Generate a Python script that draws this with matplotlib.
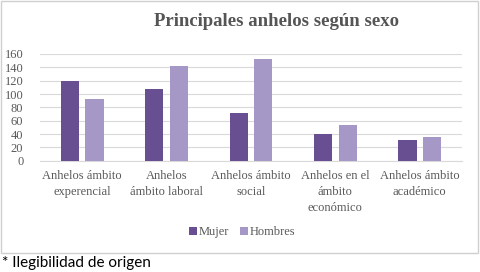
import matplotlib
matplotlib.use("Agg")
import matplotlib.pyplot as plt
import numpy as np
from matplotlib.patches import Rectangle

categories = ["Anhelos ámbito\nexperencial", "Anhelos\námbito laboral", "Anhelos ámbito\nsocial",
              "Anhelos en el\námbito\neconómico", "Anhelos ámbito\nacadémico"]
mujer = [120, 108, 72, 40, 31]
hombres = [92, 142, 152, 54, 36]
yticks = [0, 20, 40, 60, 80, 100, 120, 140, 160]

c_mujer = "#674f91"
c_hombres = "#a698c6"
txt = "#595959"

fig = plt.figure(figsize=(4.8, 2.72), dpi=100)
fig.patch.set_facecolor("white")

# outer chart border
fig.patches.append(Rectangle((1/480, 1 - 253/272), 477/480, 252/272, transform=fig.transFigure,
                             fill=False, edgecolor="#d0d0d0", linewidth=1.0))

ax = fig.add_axes([40/480, 1 - 160.7/272, 422/480, 106.7/272])
x = np.arange(len(categories))
w = 0.215
ax.bar(x - 0.145, mujer, w, color=c_mujer, label="Mujer", zorder=3)
ax.bar(x + 0.145, hombres, w, color=c_hombres, label="Hombres", zorder=3)

ax.set_xlim(-0.5, len(categories) - 0.5)
ax.set_ylim(0, 160)
ax.set_yticks(yticks)
ax.grid(axis="y", color="#d9d9d9", linewidth=0.8, zorder=0)
for s in ["top", "right", "left"]:
    ax.spines[s].set_visible(False)
ax.spines["bottom"].set_color("#d9d9d9")
ax.tick_params(axis="both", length=0, colors=txt, labelsize=9)
ax.tick_params(axis="y", pad=12)
ax.set_xticks(x)
ax.set_xticklabels(categories, family="Liberation Serif", color=txt, fontsize=9, linespacing=1.4)
for lab in ax.get_yticklabels():
    lab.set_family("Liberation Serif")
ax.tick_params(axis="x", pad=7)

fig.text(276/480, 1 - 22/272, "Principales anhelos según sexo", ha="center", va="center",
         family="Liberation Serif", fontweight="bold", fontsize=13.5, color="#555555")

leg = fig.legend(loc="center", bbox_to_anchor=(242/480, 1 - 232/272), ncol=2, frameon=False,
                 prop={"family": "Liberation Serif", "size": 9}, handlelength=0.6, handleheight=0.6,
                 columnspacing=0.9, handletextpad=0.15, labelcolor=txt)

fig.text(2/480, 1 - 263/272, "* Ilegibilidad de origen", ha="left", va="center",
         family="Lato", fontsize=11, color="black")

fig.savefig("out.png", dpi=100, facecolor="white")
